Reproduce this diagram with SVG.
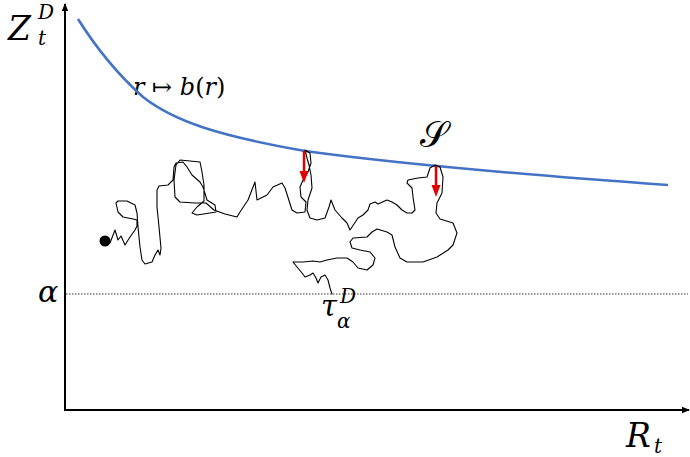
<svg xmlns="http://www.w3.org/2000/svg" width="690" height="457" viewBox="0 0 690 457">
<style>
.axis{stroke:#000;stroke-width:2;fill:none}
text{font-family:'DejaVu Serif','Liberation Serif',serif;fill:#000}
.math{font-style:italic}
.walk{fill:none;stroke:#000;stroke-width:1.1;stroke-linejoin:round;stroke-linecap:round}
.redl{stroke:#e00000;stroke-width:2.5}
</style>
<defs>
<marker id="ah" markerWidth="8" markerHeight="8" refX="7" refY="4" orient="auto" markerUnits="userSpaceOnUse">
<path d="M0,0.8 L8,4 L0,7.2 Z" fill="#000"/>
</marker>
<marker id="rh" markerWidth="12" markerHeight="10" refX="1" refY="4.5" orient="auto" markerUnits="userSpaceOnUse">
<path d="M0,0 L12,4.5 L0,9 Z" fill="#e00000"/>
</marker>
</defs>
<rect width="690" height="457" fill="#fff"/>
<g id="axes">
<line class="axis" x1="65" y1="411" x2="65" y2="4" marker-end="url(#ah)"/>
<line class="axis" x1="64" y1="410" x2="689" y2="410" marker-end="url(#ah)"/>
<line x1="66" y1="294" x2="688" y2="294" stroke="#333" stroke-width="1" stroke-dasharray="1.5,1.5"/>
</g>
<g id="labels">
<text class="math" x="8" y="40" font-size="33">Z</text>
<text class="math" x="38" y="19" font-size="20">D</text>
<text class="math" x="38" y="45" font-size="20">t</text>
<text class="math" x="626" y="447" font-size="33">R</text>
<text class="math" x="654" y="453" font-size="20">t</text>
<text class="math" x="38" y="302" font-size="30">α</text>
<text class="math" x="321" y="316" font-size="29">τ</text>
<text class="math" x="340" y="303" font-size="20">D</text>
<text class="math" x="337" y="328" font-size="20">α</text>
<text x="133" y="95" font-size="24"><tspan class="math">r</tspan> ↦ <tspan class="math">b</tspan>(<tspan class="math">r</tspan>)</text>
<text x="420" y="147" font-size="36">𝒮</text>
</g>
<g id="boundary">
<path d="M78,19 C95,46 115,72 143,97 C175,122 220,136 305,151 C370,160 500,173 668,185" fill="none" stroke="#4472C4" stroke-width="2.6"/>
</g>
<g id="walk">
<circle cx="105" cy="241" r="5.5" fill="#000"/>
<polyline class="walk" points="105,241 110,243 115,230 118,240 121,236 125,245 130,237 135,230 137,226 137,220 133,219 123,217 118,212 116,203 118,201 127,201 135,205 137,213 138,227 140,247 142,260 145,264 152,262 155,255 158,250 160,255 161,248 159,227 157,207 157,190 159,186 168,185 173,180 174,167 176,163 183,162 187,167 192,175 200,182 203,187 207,200 215,205 216,212 210,213 197,215 192,213 197,207 204,201 204,185 202,172 200,162 190,161 180,160 176,165 174,180 175,197 180,202 195,203 206,203 214,210 225,214 237,217 240,212 248,200 255,182 257,200 267,195 273,187 282,183 285,188 292,210 297,213 305,212 306,202 301,197 300,187 303,180 308,172 311,163 310,153 305,150 307,158 309,165 311,175 312,188 308,200 307,210 310,218 317,220 325,218 329,207 331,200 335,210 342,218 347,223 350,230 352,227 358,218 363,215 368,210 370,204 375,202 378,204 387,200 392,202 397,205 402,210 407,213 412,213 415,210 413,197 412,188 407,183 408,180 418,178 427,177 430,168 435,165 440,167 443,177 442,193 437,203 436,213 440,219 453,223 457,233 453,245 448,250 437,257 423,262 407,262 400,258 395,247 392,235 387,232 377,229 372,232 367,237 353,238 350,242 352,248 360,250 370,252 375,258 373,265 367,270 358,268 353,262 347,258 337,258 327,260 320,262 313,261 303,262 293,262 297,267 302,273 305,277 310,275 313,273 316,278 318,283 321,277 325,275 328,280 330,288 332,294"/>
</g>
<g id="arrows">
<line class="redl" x1="304" y1="151" x2="304" y2="172" marker-end="url(#rh)"/>
<line class="redl" x1="436" y1="166" x2="436" y2="186" marker-end="url(#rh)"/>
</g>
</svg>
